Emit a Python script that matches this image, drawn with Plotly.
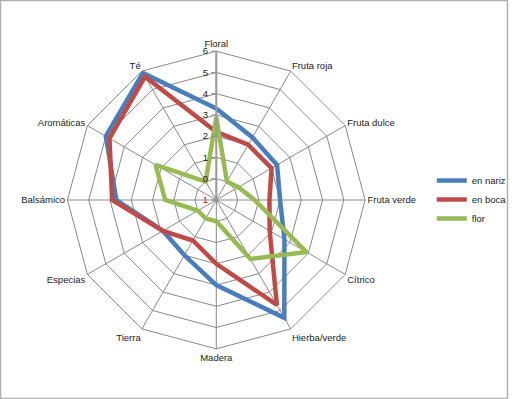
import plotly.graph_objects as go

categories = ["Floral", "Fruta roja", "Fruta dulce", "Fruta verde", "Cítrico",
              "Hierba/verde", "Madera", "Tierra", "Especias", "Balsámico",
              "Aromáticas", "Té"]
en_nariz = [3.3, 2.4, 2.3, 2.0, 2.7, 5.4, 3.0, 2.0, 1.9, 3.7, 5.0, 5.9]
en_boca = [2.2, 2.0, 2.0, 1.5, 1.9, 4.7, 2.0, 1.2, 1.9, 3.9, 4.8, 5.7]
flor = [2.9, 0.0, 0.2, 0.8, 3.9, 2.2, 0.0, 0.0, 0.0, 1.4, 2.3, 0.0]

tick_vals = [-1, 0, 1, 2, 3, 4, 5, 6]
tick_text = ["<span style='color:#e00000'>1</span>", "0", "1", "2", "3", "4", "5", "6"]

series = [("en nariz", en_nariz, "#4A7EBB"),
          ("en boca", en_boca, "#BE4B48"),
          ("flor", flor, "#98B954")]

fig = go.Figure()
for name, vals, color in series:
    fig.add_trace(go.Scatterpolar(
        r=vals + vals[:1], theta=categories + categories[:1],
        mode="lines", name=name,
        line=dict(color=color, width=4.5),
    ))

fig.update_layout(
    width=512, height=399,
    margin=dict(l=0, r=0, t=0, b=0),
    paper_bgcolor="white",
    font=dict(family="Liberation Sans, Arial, sans-serif", size=9.5, color="#222"),
    polar=dict(
        domain=dict(x=[68/512, 368/512], y=[49/399, 349/399]),
        bgcolor="white",
        gridshape="linear",
        angularaxis=dict(
            rotation=90, direction="clockwise",
            showline=True, linecolor="#888", linewidth=1,
            gridcolor="#888", gridwidth=1,
            ticks="", tickfont=dict(size=9.5),
        ),
        radialaxis=dict(
            range=[-1, 6], tickvals=tick_vals, ticktext=tick_text,
            angle=90, tickangle=90, side="counterclockwise",
            showline=True, linecolor="#999", linewidth=2,
            gridcolor="#888", gridwidth=1,
            ticks="outside", ticklen=4, tickcolor="#888",
            tickfont=dict(size=9.5),
        ),
    ),
    legend=dict(x=0.85, y=0.5, yanchor="middle", xanchor="left",
                font=dict(size=9.5), itemwidth=30, tracegroupgap=0,
                bgcolor="rgba(0,0,0,0)"),
    shapes=[dict(type="rect", xref="paper", yref="paper", x0=0.001, y0=0.001,
                 x1=0.999, y1=0.999, line=dict(color="#b0b0b0", width=1.5))],
)

fig.write_html("out.html", config={"displayModeBar": False},
               post_script="document.body.style.margin='0';document.body.style.overflow='hidden';")
